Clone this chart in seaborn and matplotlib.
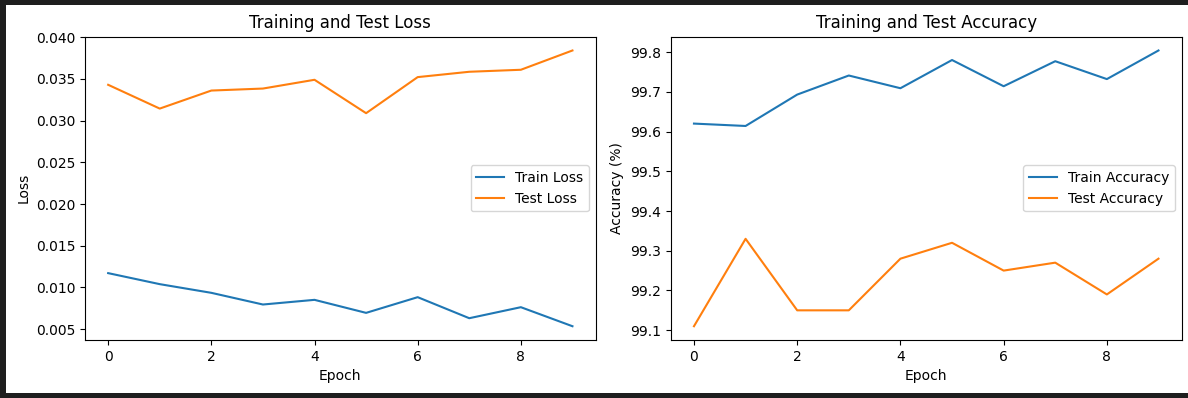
import numpy as np
import pandas as pd
import matplotlib
matplotlib.use("Agg")
import matplotlib.pyplot as plt
import seaborn as sns
from matplotlib.patches import Rectangle

epochs = list(range(10))
train_loss = [0.01172, 0.0104, 0.00936, 0.00796, 0.00852, 0.00696, 0.00884, 0.00632, 0.00764, 0.00536]
test_loss = [0.03428, 0.03143, 0.03359, 0.03383, 0.03488, 0.03088, 0.0352, 0.03584, 0.03608, 0.03839]
train_acc = [99.620, 99.614, 99.693, 99.741, 99.709, 99.780, 99.714, 99.777, 99.732, 99.804]
test_acc = [99.11, 99.33, 99.15, 99.15, 99.28, 99.32, 99.25, 99.27, 99.19, 99.28]

blue = "#1f77b4"
orange = "#ff7f0e"

fig = plt.figure(figsize=(11.88, 3.98), dpi=100)
# dark frame around the white canvas
fig.patch.set_facecolor("#1e1e1e")
fig.patches.append(Rectangle((6 / 1188, 0), 1 - 6 / 1188, 1 - 10 / 398,
                             transform=fig.transFigure, facecolor="white",
                             edgecolor="none", zorder=-1))
fig.patches[-1].set_y(5 / 398)

ax1 = fig.add_axes([0.0715, 0.1457, 0.4299, 0.7621])
ax2 = fig.add_axes([0.5646, 0.1457, 0.4301, 0.7621])

# Loss plot
sns.lineplot(x=epochs, y=train_loss, ax=ax1, color=blue, label="Train Loss")
sns.lineplot(x=epochs, y=test_loss, ax=ax1, color=orange, label="Test Loss")
ax1.set_title("Training and Test Loss", fontsize=12)
ax1.set_xlabel("Epoch")
ax1.set_ylabel("Loss")
ax1.legend(loc="center right")

# Accuracy plot
sns.lineplot(x=epochs, y=train_acc, ax=ax2, color=blue, label="Train Accuracy")
sns.lineplot(x=epochs, y=test_acc, ax=ax2, color=orange, label="Test Accuracy")
ax2.set_title("Training and Test Accuracy", fontsize=12)
ax2.set_xlabel("Epoch")
ax2.set_ylabel("Accuracy (%)")
ax2.legend(loc="center right")

for ax in (ax1, ax2):
    ax.set_xticks([0, 2, 4, 6, 8])

fig.savefig("out.png", dpi=100, facecolor=fig.get_facecolor())
